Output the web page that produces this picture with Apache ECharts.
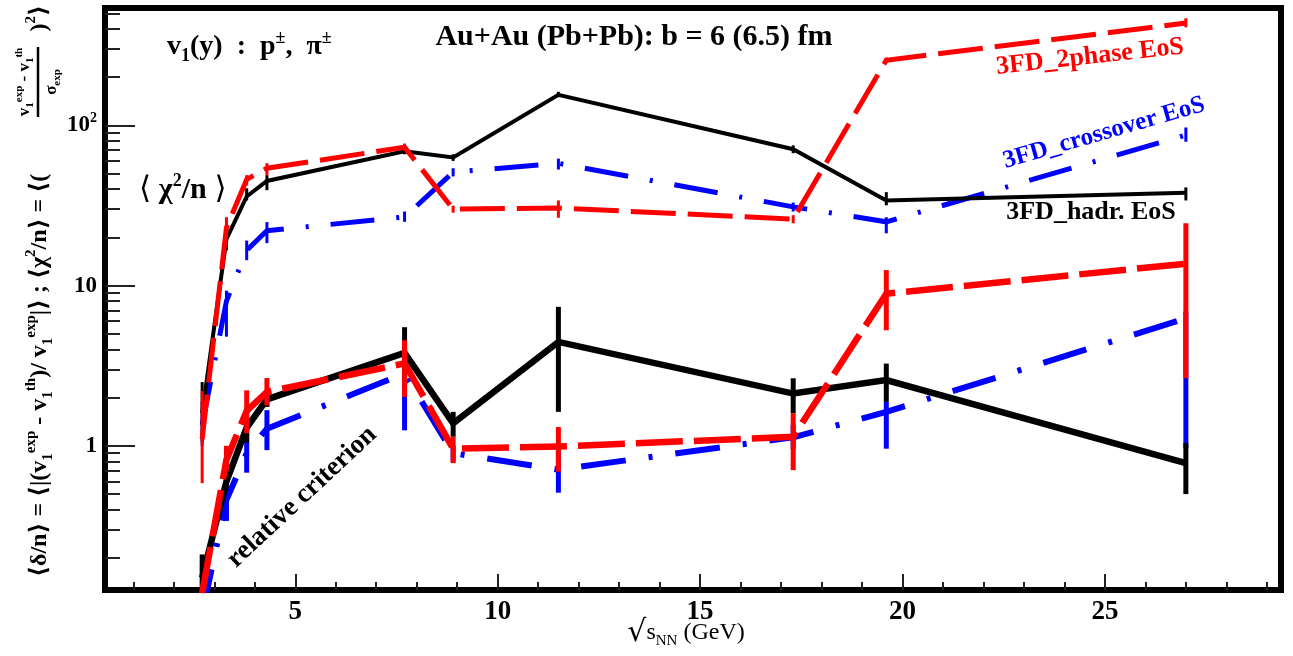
<!DOCTYPE html>
<html><head><meta charset="utf-8">
<script src="https://cdn.jsdelivr.net/npm/echarts@6/dist/echarts.min.js"></script>
<style>html,body{margin:0;padding:0;background:#fff}#c{width:1293px;height:656px}</style>
</head><body><div id="c"></div>
<script>
// ---------------- data ----------------
const energies = [2.7, 3.3, 3.8, 4.3, 7.7, 8.9, 11.5, 17.3, 19.6, 27];

// <chi^2/n>
const hadrChi       = [1.6, 19.5, 36, 45, 69, 63, 155, 71, 34, 38];
const hadrChiLo     = [1.06, 16.6, 34, 39.4, 66, 60, 150, 67, 31.7, 34];
const hadrChiHi     = [2.5, 21.2, 40.5, 48.9, 73, 66, 162, 75, 38.3, 41];
const twoPhaseChi   = [1.1, 23, 46, 54, 73, 30, 30.5, 26, 255, 435];
const twoPhaseChiLo = [0.585, 19.8, 42.2, 48.9, 70, 28.5, 26.5, 24.5, 245, 409];
const twoPhaseChiHi = [2.2, 26.7, 48.9, 58, 77, 31.5, 34, 27.5, 265, 466];
const crossChi      = [1.35, 8, 16.6, 22, 26.8, 51, 58, 31, 25, 87];
const crossChiLo    = [1.0, 4.8, 14.4, 18.4, 25, 48, 53, 29, 21.2, 79];
const crossChiHi    = [1.9, 9.3, 19.1, 24.9, 29, 54, 62, 33, 26.7, 97];

// <delta/n>
const hadrDelta       = [0.15, 0.6, 1.3, 1.95, 3.8, 1.38, 4.45, 2.12, 2.57, 0.78];
const hadrDeltaLo     = [0.127, 0.545, 1.05, 1.75, 2.6, 1.14, 1.63, 1.6, 1.88, 0.5];
const hadrDeltaHi     = [0.21, 0.63, 1.67, 2.2, 5.5, 1.63, 7.37, 2.64, 3.26, 1.04];
const twoPhaseDelta   = [0.12, 0.82, 1.65, 2.17, 3.27, 0.96, 0.99, 1.14, 8.9, 13.7];
const twoPhaseDeltaLo = [0.127, 0.7, 1.2, 1.79, 2.02, 0.78, 0.69, 0.705, 5.26, 2.64];
const twoPhaseDeltaHi = [0.127, 1.0, 2.22, 2.65, 4.56, 1.14, 1.31, 1.6, 12.5, 24.5];
const crossDelta      = [0.09, 0.46, 0.9, 1.28, 2.83, 0.9, 0.71, 1.13, 1.63, 6.24];
const crossDeltaLo    = [0.127, 0.34, 0.68, 0.94, 1.25, 0.8, 0.51, 0.95, 0.96, 0.97];
const crossDeltaHi    = [0.127, 0.58, 1.2, 1.67, 4.0, 1.0, 0.95, 1.35, 1.88, 6.9];

// ticks
const xMajorTicks = [5, 10, 15, 20, 25];
const xMinorTicks = [1,2,3,4,6,7,8,9,11,12,13,14,16,17,18,19,21,22,23,24,26,27,28,29];
const yMajorTicks = [1, 10, 100];
const yTickLabels = ['{b|1}', '{b|10}', '{b|10}{s|2}'];
const yMinorTicks = [0.2,0.3,0.4,0.5,0.6,0.7,0.8,0.9,2,3,4,5,6,7,8,9,20,30,40,50,60,70,80,90,200,300,400,500];

// ---------------- helpers ----------------
const FF = "'Liberation Serif','DejaVu Serif',serif";
const RED = '#ff0000', BLUE = '#0000ff', BLACK = '#000000';
const pairs = ys => energies.map((x, i) => [x, ys[i]]);
const bars = (lo, hi) => energies.map((x, i) => [x, lo[i], hi[i]]);

function lineSeries(ys, color, width, type, z) {
  return { type: 'line', data: pairs(ys), symbol: 'none', silent: true, z: z,
    lineStyle: { color: color, width: width, type: type, cap: 'butt', join: 'miter' },
    clip: true, animation: false };
}
function errSeries(lo, hi, color, width, z) {
  return { type: 'custom', data: bars(lo, hi), z: z, silent: true, clip: true,
    encode: { x: 0, y: [1, 2] },
    renderItem: function (params, api) {
      const x = api.value(0);
      const a = api.coord([x, api.value(1)]);
      const b = api.coord([x, api.value(2)]);
      return { type: 'line', shape: { x1: a[0], y1: a[1], x2: b[0], y2: b[1] },
        style: { stroke: color, lineWidth: width } };
    }, animation: false };
}

const chart = echarts.init(document.getElementById('c'), null, { renderer: 'canvas' });

const xBase = { type: 'value', min: 0.3, max: 29.35, splitLine: { show: false },
  axisLine: { show: false, onZero: false } };
const yBase = { type: 'log', logBase: 10, min: 0.126, max: 540, splitLine: { show: false },
  axisLine: { show: false, onZero: false }, minorTick: { show: false } };

const richY = {
  m:   { fontSize: 24, fontWeight: 'bold', fontFamily: FF, fill: '#000', lineHeight: 32, verticalAlign: 'middle' },
  sub: { fontSize: 15, fontWeight: 'bold', fontFamily: FF, fill: '#000', verticalAlign: 'bottom' },
  sup: { fontSize: 15, fontWeight: 'bold', fontFamily: FF, fill: '#000', verticalAlign: 'top' },
  m2:  { fontSize: 17, fontWeight: 'bold', fontFamily: FF, fill: '#000', lineHeight: 22, verticalAlign: 'middle' },
  sub2:{ fontSize: 11, fontWeight: 'bold', fontFamily: FF, fill: '#000', verticalAlign: 'bottom' },
  sup2:{ fontSize: 11, fontWeight: 'bold', fontFamily: FF, fill: '#000', verticalAlign: 'top' }
};

const option = {
  animation: false,
  backgroundColor: '#ffffff',
  grid: { left: 105, right: 12, top: 8, bottom: 66, show: true, borderColor: '#000', borderWidth: 6,
    backgroundColor: 'transparent', containLabel: false, outerBoundsMode: 'none' },
  xAxis: [
    Object.assign({}, xBase, {
      position: 'bottom',
      axisTick: { show: true, inside: true, length: 16, customValues: xMajorTicks, lineStyle: { color: '#222', width: 2 } },
      axisLabel: { show: true, customValues: xMajorTicks, margin: 9, color: '#000', fontSize: 27, fontWeight: 'bold', fontFamily: FF }
    }),
    Object.assign({}, xBase, {
      position: 'bottom',
      axisTick: { show: true, inside: true, length: 8, customValues: xMinorTicks, lineStyle: { color: '#222', width: 2 } },
      axisLabel: { show: false }
    })
  ],
  yAxis: [
    Object.assign({}, yBase, {
      position: 'left',
      axisTick: { show: true, inside: true, length: 30, customValues: yMajorTicks, lineStyle: { color: '#222', width: 2 } },
      axisLabel: { show: true, customValues: yMajorTicks, margin: 8,
        formatter: function (v) {
          const i = yMajorTicks.findIndex(t => Math.abs(t - v) / t < 1e-6);
          return i >= 0 ? yTickLabels[i] : '';
        },
        rich: {
          b: { fontSize: 23, fontWeight: 'bold', fontFamily: FF, color: '#000', lineHeight: 28, verticalAlign: 'middle' },
          s: { fontSize: 14, fontWeight: 'bold', fontFamily: FF, color: '#000', verticalAlign: 'top' }
        } }
    }),
    Object.assign({}, yBase, {
      position: 'left',
      axisTick: { show: true, inside: true, length: 15, customValues: yMinorTicks, lineStyle: { color: '#222', width: 2 } },
      axisLabel: { show: false }
    })
  ],
  series: [
    // crossover (blue, dash-dot)
    errSeries(crossChiLo, crossChiHi, BLUE, 3, 2),
    lineSeries(crossChi, BLUE, 5, [44, 22, 3, 22], 2),
    errSeries(crossDeltaLo, crossDeltaHi, BLUE, 5, 2),
    lineSeries(crossDelta, BLUE, 6, [45, 23, 4, 23], 2),
    // hadronic (black, solid)
    errSeries(hadrChiLo, hadrChiHi, BLACK, 3, 3),
    lineSeries(hadrChi, BLACK, 4, 'solid', 3),
    errSeries(hadrDeltaLo, hadrDeltaHi, BLACK, 5, 3),
    lineSeries(hadrDelta, BLACK, 6.5, 'solid', 3),
    // 2-phase (red, dashed)
    errSeries(twoPhaseChiLo, twoPhaseChiHi, RED, 3, 4),
    lineSeries(twoPhaseChi, RED, 5, [45, 12], 4),
    errSeries(twoPhaseDeltaLo, twoPhaseDeltaHi, RED, 5, 4),
    lineSeries(twoPhaseDelta, RED, 6.5, [47, 11], 4)
  ],
  graphic: [
    { type: 'text', x: 634, y: 37, z: 10, style: { text: 'Au+Au (Pb+Pb): b = 6 (6.5) fm', font: 'bold 30px ' + FF, fill: '#000',
      textAlign: 'center', textVerticalAlign: 'middle', align: 'center', verticalAlign: 'middle' } },
    { type: 'text', x: 167, y: 47, z: 10, style: { text: '{m|v}{sub|1}{m|(y)  :  p}{sup|±}{m|,  π}{sup|±}',
      textAlign: 'left', textVerticalAlign: 'middle', align: 'left', verticalAlign: 'middle',
      rich: {
        m: { fontSize: 28, fontWeight: 'bold', fontFamily: FF, fill: '#000', lineHeight: 36, verticalAlign: 'middle' },
        sub: { fontSize: 18, fontWeight: 'bold', fontFamily: FF, fill: '#000', verticalAlign: 'bottom' },
        sup: { fontSize: 18, fontWeight: 'bold', fontFamily: FF, fill: '#000', verticalAlign: 'top' }
      } } },
    { type: 'text', x: 139, y: 190, z: 10, style: { text: '{a|⟨ }{m|χ}{sup|2}{m|/n}{a| ⟩}',
      textAlign: 'left', textVerticalAlign: 'middle', align: 'left', verticalAlign: 'middle',
      rich: {
        a: { fontSize: 31, fontFamily: FF, fill: '#000', lineHeight: 36, verticalAlign: 'middle' },
        m: { fontSize: 30, fontWeight: 'bold', fontFamily: FF, fill: '#000', lineHeight: 36, verticalAlign: 'middle' },
        sup: { fontSize: 18, fontWeight: 'bold', fontFamily: FF, fill: '#000', verticalAlign: 'top' }
      } } },
    { type: 'text', x: 302, y: 497, z: 10, rotation: 43 * Math.PI / 180, style: { text: 'relative criterion', font: 'bold 27px ' + FF,
      fill: '#000', textAlign: 'center', textVerticalAlign: 'middle', align: 'center', verticalAlign: 'middle' } },
    { type: 'text', x: 1090, y: 57, z: 10, rotation: 6.3 * Math.PI / 180, style: { text: '3FD_2phase EoS', font: 'bold 26px ' + FF,
      fill: RED, textAlign: 'center', textVerticalAlign: 'middle', align: 'center', verticalAlign: 'middle' } },
    { type: 'text', x: 1104, y: 133, z: 10, rotation: 16 * Math.PI / 180, style: { text: '3FD_crossover EoS', font: 'bold 25px ' + FF,
      fill: BLUE, textAlign: 'center', textVerticalAlign: 'middle', align: 'center', verticalAlign: 'middle' } },
    { type: 'text', x: 1091, y: 212, z: 10, style: { text: '3FD_hadr. EoS', font: 'bold 26px ' + FF,
      fill: '#000', textAlign: 'center', textVerticalAlign: 'middle', align: 'center', verticalAlign: 'middle' } },
    // x-axis title
    { type: 'text', x: 686, y: 633, z: 10, style: { text: '{r|√}{m|s}{sub|NN}{m| (GeV)}',
      textAlign: 'center', textVerticalAlign: 'middle', align: 'center', verticalAlign: 'middle',
      rich: {
        r: { fontSize: 30, fontFamily: 'DejaVu Sans', fill: '#000', lineHeight: 32, verticalAlign: 'middle' },
        m: { fontSize: 24, fontFamily: FF, fill: '#000', lineHeight: 32, verticalAlign: 'middle' },
        sub: { fontSize: 15, fontFamily: FF, fill: '#000', verticalAlign: 'bottom' }
      } } },
    // y-axis title (rotated group)
    { type: 'group', x: 40, y: 577, rotation: Math.PI / 2, z: 10, children: [
      { type: 'text', x: 0, y: 0, style: { rich: richY,
        text: '{m|⟨δ/n⟩ = ⟨|(v}{sub|1}{sup|exp}{m| - v}{sub|1}{sup|th}{m|)/ v}{sub|1}{sup|exp}{m||⟩ ; ⟨χ}{sup|2}{m|/n⟩ = ⟨(}',
        textAlign: 'left', textVerticalAlign: 'middle', align: 'left', verticalAlign: 'middle' } },
      { type: 'text', x: 495, y: -15, style: { rich: richY,
        text: '{m2|v}{sub2|1}{sup2|exp}{m2| - v}{sub2|1}{sup2|th}',
        textAlign: 'center', textVerticalAlign: 'middle', align: 'center', verticalAlign: 'middle' } },
      { type: 'line', shape: { x1: 460, y1: -2, x2: 530, y2: -2 }, style: { stroke: '#000', lineWidth: 2.5 } },
      { type: 'text', x: 495, y: 12, style: { rich: richY, text: '{m2|σ}{sub2|exp}',
        textAlign: 'center', textVerticalAlign: 'middle', align: 'center', verticalAlign: 'middle' } },
      { type: 'text', x: 572, y: 0, style: { rich: richY, text: '{m|)}{sup|2}{m|⟩}',
        textAlign: 'right', textVerticalAlign: 'middle', align: 'right', verticalAlign: 'middle' } }
    ] }
  ]
};
chart.setOption(option);
</script>
</body></html>
